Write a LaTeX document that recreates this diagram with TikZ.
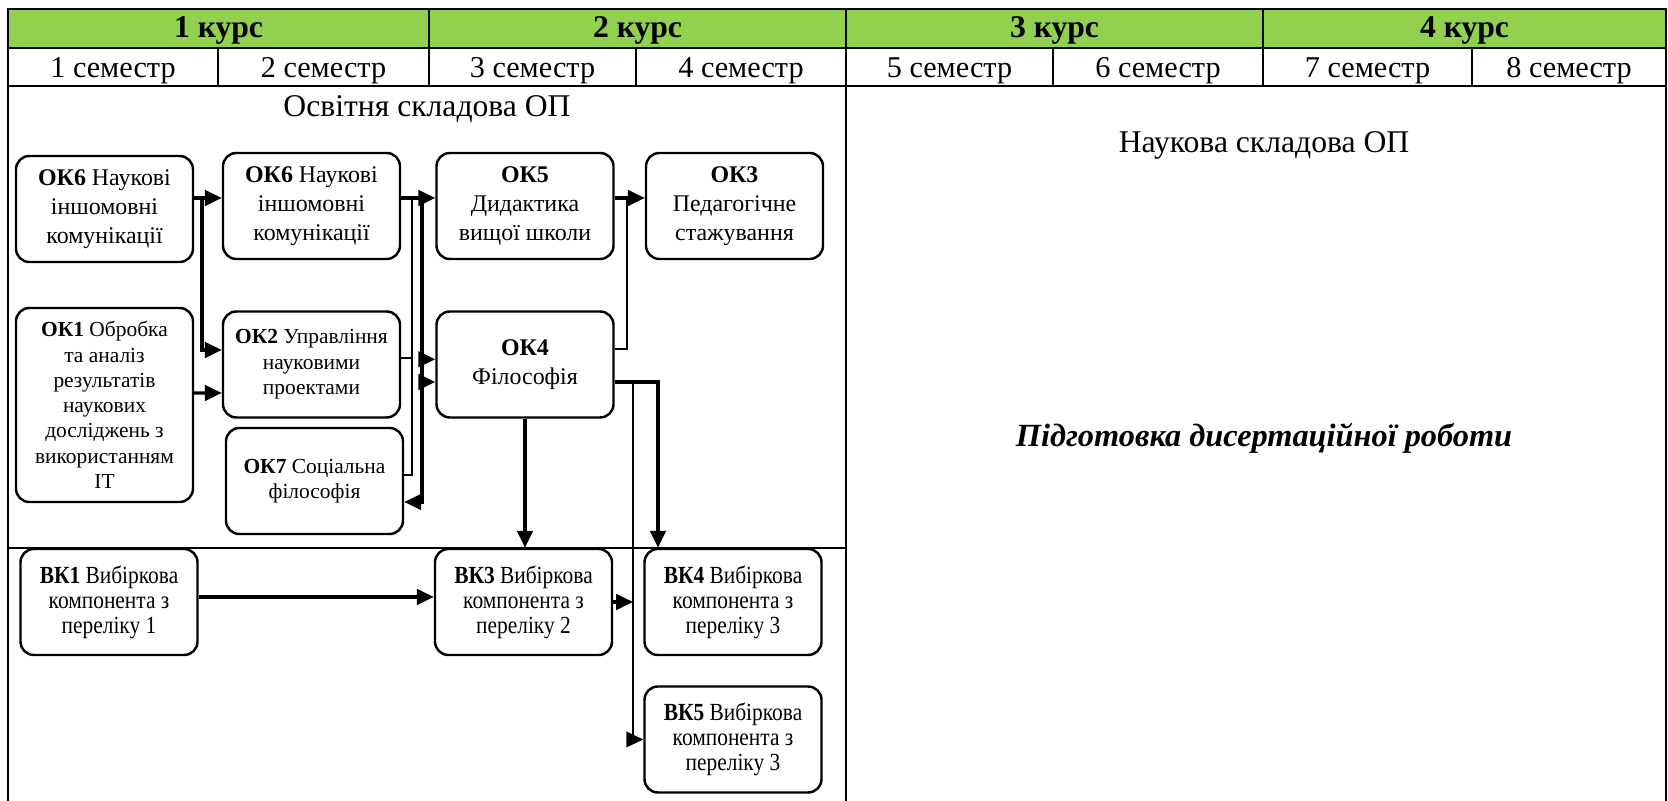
\documentclass[tikz,border=0pt]{standalone}
\usepackage{fontspec}
\setmainfont{Liberation Serif}
\newfontfamily\narrowserif[FakeStretch=0.87]{Liberation Serif}
\usetikzlibrary{positioning, calc, arrows.meta}
\tikzset{>={Triangle[length=4.8pt,width=4.4pt]}}
\definecolor{kursgreen}{RGB}{146,208,80}

\begin{document}
\begin{tikzpicture}
    [
        big_box/.style={rectangle, rounded corners=3.8pt, draw=black, line width=0.7pt, minimum width=1.77cm, minimum height=1.06cm, align=center, inner sep=1pt, font=\fontsize{6.8}{8.2}\selectfont},
        small_box/.style={big_box, font=\fontsize{6.1}{7.2}\selectfont},
        vk_box/.style={big_box, font=\narrowserif\fontsize{7}{7.1}\selectfont},
        link/.style={->, line width=0.9pt},
        bus/.style={line width=0.55pt},
        grid_line/.style={line width=0.5pt},
        head_text/.style={anchor=base, font=\fontsize{9}{10}\selectfont\bfseries},
        sem_text/.style={anchor=base, font=\fontsize{8.6}{10}\selectfont},
        part_text/.style={anchor=base, font=\fontsize{9}{10}\selectfont},
    ]

  \useasboundingbox (0,0) rectangle (16.68,-8.01);

  % table head
  \fill[kursgreen] (0.08,-0.09) rectangle (16.66,-0.48);
  \draw[grid_line] (0.08,-8.01) -- (0.08,-0.09) -- (16.66,-0.09) -- (16.66,-8.01);
  \draw[grid_line] (0.08,-0.48) -- (16.66,-0.48);
  \draw[grid_line] (0.08,-0.86) -- (16.66,-0.86);
  \draw[grid_line] (4.29,-0.09) -- (4.29,-0.86);
  \draw[grid_line] (12.63,-0.09) -- (12.63,-0.86);
  \draw[grid_line] (2.18,-0.48) -- (2.18,-0.86);
  \draw[grid_line] (6.36,-0.48) -- (6.36,-0.86);
  \draw[grid_line] (10.53,-0.48) -- (10.53,-0.86);
  \draw[grid_line] (14.72,-0.48) -- (14.72,-0.86);
  \draw[grid_line] (8.46,-0.09) -- (8.46,-8.01);
  \draw[grid_line] (0.08,-5.48) -- (8.46,-5.48);

  \node[head_text] (k1) at (2.185,-0.38) {1 курс};
  \node[head_text] (k2) at (6.375,-0.38) {2 курс};
  \node[head_text] (k3) at (10.545,-0.38) {3 курс};
  \node[head_text] (k4) at (14.645,-0.38) {4 курс};

  \node[sem_text] (s1) at (1.13,-0.78) {1 семестр};
  \node[sem_text] (s2) at (3.235,-0.78) {2 семестр};
  \node[sem_text] (s3) at (5.325,-0.78) {3 семестр};
  \node[sem_text] (s4) at (7.41,-0.78) {4 семестр};
  \node[sem_text] (s5) at (9.495,-0.78) {5 семестр};
  \node[sem_text] (s6) at (11.58,-0.78) {6 семестр};
  \node[sem_text] (s7) at (13.675,-0.78) {7 семестр};
  \node[sem_text] (s8) at (15.69,-0.78) {8 семестр};

  \node[part_text] (osv) at (4.27,-1.17) {Освітня складова ОП};
  \node[part_text] (nauk) at (12.64,-1.53) {Наукова складова ОП};
  \node[font=\fontsize{9.2}{10}\selectfont\bfseries\itshape] (dys) at (12.64,-4.38) {Підготовка дисертаційної роботи};

  % compulsory components
  \node[big_box] (OK6a) at (1.045,-2.09) {\textbf{ОК6} Наукові\\іншомовні\\комунікації};
  \node[big_box] (OK6b) at (3.115,-2.06) {\textbf{ОК6} Наукові\\іншомовні\\комунікації};
  \node[big_box] (OK5) at (5.25,-2.06) {\textbf{ОК5}\\Дидактика\\вищої школи};
  \node[big_box] (OK3) at (7.345,-2.06) {\textbf{ОК3}\\Педагогічне\\стажування};
  \node[small_box, minimum height=1.94cm] (OK1) at (1.045,-4.05) {\textbf{ОК1} Обробка\\та аналіз\\результатів\\наукових\\досліджень з\\використанням\\IT};
  \node[small_box] (OK2) at (3.115,-3.645) {\textbf{ОК2} Управління\\науковими\\проектами};
  \node[big_box] (OK4) at (5.25,-3.645) {\textbf{ОК4}\\Філософія};
  \node[small_box] (OK7) at (3.145,-4.81) {\textbf{ОК7} Соціальна\\філософія};

  % elective components
  \node[vk_box] (VK1) at (1.09,-6.02) {\textbf{ВК1} Вибіркова\\компонента з\\переліку 1};
  \node[vk_box] (VK3) at (5.235,-6.02) {\textbf{ВК3} Вибіркова\\компонента з\\переліку 2};
  \node[vk_box] (VK4) at (7.33,-6.02) {\textbf{ВК4} Вибіркова\\компонента з\\переліку 3};
  \node[vk_box] (VK5) at (7.33,-7.395) {\textbf{ВК5} Вибіркова\\компонента з\\переліку 3};

  \coordinate (jA) at (2.02,-1.98);
  \coordinate (busL) at (4.12,-1.98);
  \coordinate (busR) at (4.22,-1.98);
  \coordinate (jB) at (6.27,-1.98);
  \coordinate (jE) at (6.33,-3.82);
  \coordinate (jF) at (6.58,-3.82);

  \draw[link] (OK6a.east |- jA) -- (OK6b.west |- jA);
  \draw[link] (jA) |- ($(OK2.west)+(0,0.145)$);
  \draw[link] ($(OK1.east)+(0,0.12)$) -- ($(OK2.west)+(0,-0.285)$);
  \draw[link] (OK6b.east |- jA) -- (OK5.west |- jA);
  \draw[bus] ($(OK2.east)+(0,0.065)$) -| (busL);
  \draw[bus] ($(OK7.east)+(0,0.06)$) -| (busL);
  \draw[link] (busR) |- ($(OK4.west)+(0,0.052)$);
  \draw[link] (busR) |- ($(OK4.west)+(0,-0.175)$);
  \draw[link] (busR) |- ($(OK7.east)+(0,-0.21)$);
  \draw[link] (OK5.east |- jB) -- (OK3.west |- jB);
  \draw[bus] ($(OK4.east)+(0,0.155)$) -| (jB);
  \draw[link] (OK4.south) -- (OK4.south |- VK3.north);
  \draw[link] (jE -| OK4.east) -| (jF |- VK4.north);
  \draw[link, line width=0.55pt] (jE) |- (VK5.west);
  \draw[link] ($(VK1.east)+(0,0.05)$) -- ($(VK3.west)+(0,0.05)$);
  \draw[link] (VK3.east) -- (VK3.east -| jE);
\end{tikzpicture}
\end{document}
